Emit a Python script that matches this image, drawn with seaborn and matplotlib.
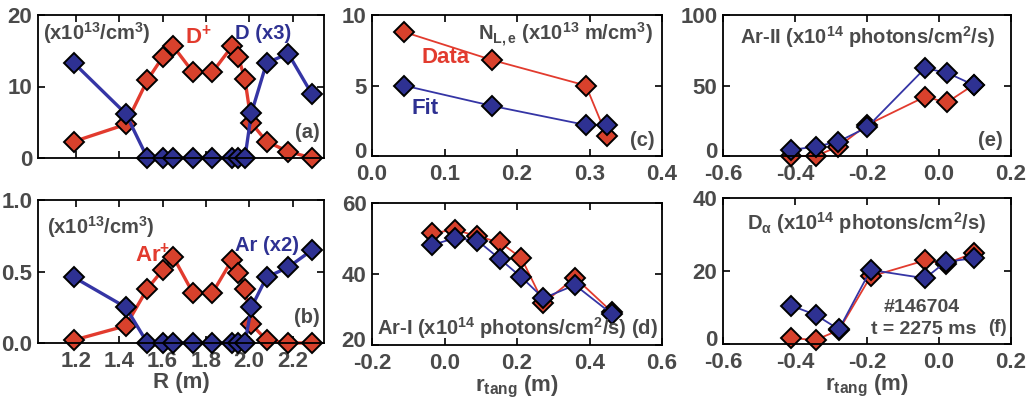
import matplotlib
matplotlib.use("Agg")
import matplotlib.pyplot as plt
import matplotlib.transforms as mtrans
import seaborn as sns
import numpy as np

# ---------------- data ----------------
R_m = [1.19, 1.43, 1.53, 1.60, 1.65, 1.74, 1.83, 1.92, 1.95, 1.98, 2.01, 2.08, 2.18, 2.29]
D_plus = [2.3, 4.7, 10.9, 14.1, 15.6, 12.0, 12.0, 15.6, 14.1, 11.0, 4.9, 2.3, 0.9, 0.0]
D_x3 = [13.3, 6.2, 0, 0, 0, 0, 0, 0, 0, 0, 6.3, 13.3, 14.6, 8.9]
Ar_plus = [0.02, 0.12, 0.38, 0.51, 0.60, 0.35, 0.35, 0.58, 0.49, 0.38, 0.13, 0.02, 0.0, 0.0]
Ar_x2 = [0.46, 0.25, 0, 0, 0, 0, 0, 0, 0, 0, 0.25, 0.46, 0.53, 0.65]

r_c = [0.044, 0.166, 0.295, 0.324]
NLe_data = [8.8, 6.8, 5.0, 1.4]
NLe_fit = [5.0, 3.55, 2.2, 2.2]

r_d = [-0.034, 0.029, 0.091, 0.153, 0.212, 0.273, 0.360, 0.461]
ArI_data = [51.5, 52.5, 50.6, 48.9, 44.5, 31.8, 39.0, 29.4]
ArI_fit = [48.2, 50.1, 49.4, 44.2, 39.1, 33.2, 36.9, 28.8]

r_e = [-0.412, -0.343, -0.280, -0.200, -0.039, 0.022, 0.096]
ArII_data = [0.0, 0.0, 6.6, 22.0, 42.0, 38.0, 50.4]
ArII_fit = [4.3, 6.6, 10.2, 20.3, 62.2, 59.1, 50.4]

r_f = [-0.410, -0.343, -0.278, -0.190, -0.039, 0.019, 0.096]
Da_data = [1.6, 1.1, 3.8, 18.5, 22.9, 22.0, 24.9]
Da_fit = [10.5, 8.0, 4.0, 20.3, 18.0, 22.5, 23.5]

# ---------------- style ----------------
sns.set_style("ticks")
GRAY = "#4a4a4a"
RED_FILL = "#d8412c"
RED_LINE = "#e23b2e"
BLUE_FILL = "#2e3192"
BLUE_LINE = "#3535a5"

plt.rcParams["font.family"] = ["Liberation Sans", "DejaVu Sans"]
plt.rcParams["font.weight"] = "bold"
plt.rcParams["mathtext.fontset"] = "custom"
plt.rcParams["mathtext.rm"] = "Liberation Sans:bold"
plt.rcParams["mathtext.it"] = "Liberation Sans:bold"
plt.rcParams["mathtext.bf"] = "Liberation Sans:bold"
plt.rcParams["mathtext.sf"] = "Liberation Sans:bold"
plt.rcParams["axes.linewidth"] = 1.3
plt.rcParams["axes.edgecolor"] = "black"

fig = plt.figure(figsize=(10.30, 4.01), dpi=100)

def box(l, t, r, b):
    W, H = 1030.0, 401.0
    return [l / W, 1 - b / H, (r - l) / W, (b - t) / H]

axA = fig.add_axes(box(38, 15, 324, 158))
axB = fig.add_axes(box(38, 200, 324, 343))
axC = fig.add_axes(box(372, 15, 662, 156))
axD = fig.add_axes(box(372, 203, 662, 345))
axE = fig.add_axes(box(723, 15, 1011, 156))
axF = fig.add_axes(box(723, 198, 1011, 344))

def series(ax, x, y, fill, line, lw):
    sns.lineplot(x=x, y=y, ax=ax, sort=False, estimator=None, color=line,
                 linewidth=lw, marker="D", markersize=10.5,
                 markerfacecolor=fill, markeredgecolor="black",
                 markeredgewidth=1.4, clip_on=False)

def style(ax, xlim, xticks, xlabels, ylim, yticks, ylabels, lift_first=False):
    ax.set_xlim(*xlim)
    ax.set_ylim(*ylim)
    ax.set_xticks(xticks)
    ax.set_yticks(yticks)
    ax.set_xticklabels(xlabels)
    ax.set_yticklabels(ylabels)
    ax.tick_params(direction="in", top=True, right=True, length=5, width=1.2,
                   labelsize=16, labelcolor=GRAY, colors="black")
    ax.tick_params(axis="x", pad=6)
    ax.tick_params(axis="y", pad=4)
    for lab in ax.get_xticklabels() + ax.get_yticklabels():
        lab.set_color(GRAY)
        lab.set_fontweight("bold")
    if lift_first:
        off = mtrans.ScaledTranslation(0, 4 / 72.0, fig.dpi_scale_trans)
        lab = ax.yaxis.get_majorticklabels()[0]
        lab.set_transform(lab.get_transform() + off)
    for s in ax.spines.values():
        s.set_visible(True)
        s.set_color("black")
    ax.set_xlabel("")
    ax.set_ylabel("")

def txt(ax, x, y, s, color=GRAY, ha="left", size=14.5):
    ax.text(x, y, s, transform=ax.transAxes, ha=ha, va="center", color=color,
            fontsize=size, fontweight="bold")

# (a)
series(axA, R_m, D_plus, RED_FILL, RED_LINE, 2.4)
series(axA, R_m, D_x3, BLUE_FILL, BLUE_LINE, 2.4)
Rt = [1.2, 1.4, 1.6, 1.8, 2.0, 2.2]
style(axA, (1.025, 2.345), Rt, [""] * len(Rt), (0, 20), [0, 10, 20], ["0", "10", "20"])
txt(axA, 0.017, 0.874, r"(x10$^{13}$/cm$^{3}$)")
txt(axA, 0.514, 0.845, r"D$^{+}$", color=RED_LINE, size=16)
txt(axA, 0.689, 0.874, "D (x3)", color=BLUE_FILL)
txt(axA, 0.986, 0.18, "(a)", ha="right")

# (b)
series(axB, R_m, Ar_plus, RED_FILL, RED_LINE, 2.4)
series(axB, R_m, Ar_x2, BLUE_FILL, BLUE_LINE, 2.4)
style(axB, (1.025, 2.345), Rt, ["1.2", "1.4", "1.6", "1.8", "2.0", "2.2"],
      (0, 1.0), [0, 0.5, 1.0], ["0.0", "0.5", "1.0"])
axB.set_xlabel("R (m)", fontsize=16, fontweight="bold", color=GRAY, labelpad=0)
txt(axB, 0.031, 0.811, r"(x10$^{13}$/cm$^{3}$)")
txt(axB, 0.339, 0.61, r"Ar$^{+}$", color=RED_LINE, size=16)
txt(axB, 0.689, 0.685, "Ar (x2)", color=BLUE_FILL)
txt(axB, 0.986, 0.175, "(b)", ha="right")

# (c)
series(axC, r_c, NLe_data, RED_FILL, RED_LINE, 1.3)
series(axC, r_c, NLe_fit, BLUE_FILL, BLUE_LINE, 1.3)
style(axC, (0, 0.4), [0, 0.1, 0.2, 0.3, 0.4], ["0.0", "0.1", "0.2", "0.3", "0.4"],
      (0, 10), [0, 5, 10], ["0", "5", "10"], lift_first=True)
txt(axC, 0.969, 0.858, r"N$_{\mathrm{L,e}}$ (x10$^{13}$ m/cm$^{3}$)", ha="right")
txt(axC, 0.252, 0.70, "Data", color=RED_LINE, ha="center", size=16)
txt(axC, 0.183, 0.34, "Fit", color=BLUE_FILL, ha="center", size=16)
txt(axC, 0.976, 0.113, "(c)", ha="right")

# (d)
series(axD, r_d, ArI_data, RED_FILL, RED_LINE, 1.3)
series(axD, r_d, ArI_fit, BLUE_FILL, BLUE_LINE, 1.3)
style(axD, (-0.2, 0.6), [-0.2, 0, 0.2, 0.4, 0.6], ["-0.2", "0.0", "0.2", "0.4", "0.6"],
      (20, 60), [20, 40, 60], ["20", "40", "60"], lift_first=True)
axD.set_xlabel(r"r$_{\mathrm{tang}}$ (m)", fontsize=16, fontweight="bold", color=GRAY, labelpad=0)
txt(axD, 0.017, 0.12, r"Ar-I (x10$^{14}$ photons/cm$^{2}$/s) (d)")

# (e)
series(axE, r_e, ArII_data, RED_FILL, RED_LINE, 1.3)
series(axE, r_e, ArII_fit, BLUE_FILL, BLUE_LINE, 1.3)
rt = [-0.6, -0.4, -0.2, 0.0, 0.2]
rtl = ["-0.6", "-0.4", "-0.2", "0.0", "0.2"]
style(axE, (-0.6, 0.2), rt, rtl, (0, 100), [0, 50, 100], ["0", "50", "100"], lift_first=True)
txt(axE, 0.059, 0.844, r"Ar-II (x10$^{14}$ photons/cm$^{2}$/s)")
txt(axE, 0.972, 0.113, "(e)", ha="right")

# (f)
series(axF, r_f, Da_data, RED_FILL, RED_LINE, 1.3)
series(axF, r_f, Da_fit, BLUE_FILL, BLUE_LINE, 1.3)
style(axF, (-0.6, 0.2), rt, rtl, (0, 40), [0, 20, 40], ["0", "20", "40"], lift_first=True)
axF.set_xlabel(r"r$_{\mathrm{tang}}$ (m)", fontsize=16, fontweight="bold", color=GRAY, labelpad=0)
txt(axF, 0.083, 0.829, r"D$_{α}$ (x10$^{14}$ photons/cm$^{2}$/s)")
txt(axF, 0.556, 0.247, "#146704", size=14)
txt(axF, 0.515, 0.096, "t = 2275 ms", size=14)
txt(axF, 0.985, 0.11, "(f)", ha="right", size=13.5)

fig.savefig("out.png", dpi=100)
